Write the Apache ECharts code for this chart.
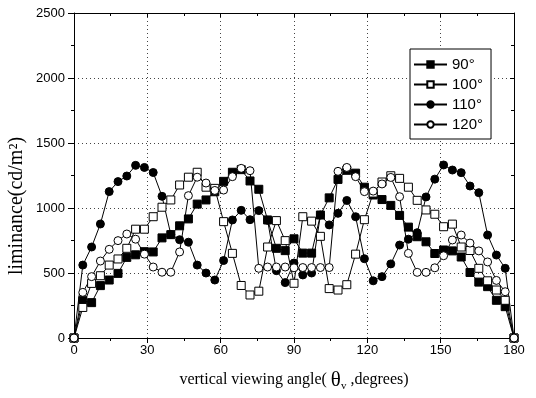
<!DOCTYPE html>
<html><head><meta charset="utf-8">
<script src="https://cdn.jsdelivr.net/npm/echarts@6/dist/echarts.min.js"></script>
<style>html,body{margin:0;padding:0;background:#fff}#c{width:536px;height:398px}</style>
</head><body><div id="c"></div>
<script>
const angles = [0, 3.6, 7.2, 10.8, 14.4, 18, 21.6, 25.2, 28.8, 32.4, 36, 39.6, 43.2, 46.8, 50.4, 54, 57.6, 61.2, 64.8, 68.4, 72, 75.6, 79.2, 82.8, 86.4, 90, 93.6, 97.2, 100.8, 104.4, 108, 111.6, 115.2, 118.8, 122.4, 126, 129.6, 133.2, 136.8, 140.4, 144, 147.6, 151.2, 154.8, 158.4, 162, 165.6, 169.2, 172.8, 176.4, 180];
const s90 = [0, 287, 272, 403, 446, 497, 620, 640, 664, 662, 770, 795, 863, 916, 1030, 1062, 1125, 1205, 1275, 1295, 1208, 1144, 908, 690, 672, 763, 653, 653, 946, 1078, 1220, 1290, 1268, 1160, 1100, 1065, 1020, 943, 853, 779, 740, 650, 677, 670, 623, 504, 430, 395, 290, 241, 0];
const s100 = [0, 235, 420, 479, 561, 608, 690, 837, 837, 933, 1006, 1062, 1177, 1237, 1275, 1160, 1151, 895, 651, 404, 331, 360, 700, 903, 749, 421, 933, 899, 782, 380, 369, 410, 645, 910, 1115, 1200, 1248, 1228, 1160, 1059, 985, 952, 856, 876, 700, 673, 536, 440, 369, 290, 0];
const s110 = [0, 561, 700, 877, 1126, 1203, 1246, 1328, 1312, 1273, 1090, 797, 756, 737, 561, 500, 446, 596, 908, 982, 910, 980, 905, 518, 426, 577, 485, 500, 946, 870, 959, 1058, 933, 610, 440, 472, 570, 715, 760, 810, 1085, 1222, 1331, 1292, 1272, 1169, 1118, 792, 638, 536, 0];
const s120 = [0, 351, 472, 592, 682, 749, 800, 760, 645, 546, 506, 506, 662, 1095, 1237, 1192, 1135, 1138, 1241, 1305, 1287, 536, 546, 546, 546, 540, 542, 542, 542, 542, 1282, 1312, 1241, 1126, 1130, 1185, 1235, 1087, 651, 505, 505, 540, 633, 754, 792, 730, 670, 585, 443, 356, 0];
const seriesNames = ['90°', '100°', '110°', '120°'];
const xTicks = [0, 30, 60, 90, 120, 150, 180];
const yTicks = [0, 500, 1000, 1500, 2000, 2500];

const sans = '"Liberation Sans", Arial, sans-serif';
const serif = '"Liberation Serif", "Times New Roman", serif';
function pairs(v) { return angles.map((a, i) => [a, v[i]]); }
function mk(name, data, symbol, filled) {
  return {
    name: name, type: 'line', data: pairs(data), symbol: symbol, symbolSize: 8,
    showSymbol: true, showAllSymbol: true,
    lineStyle: { color: '#000', width: 1 },
    itemStyle: filled ? { color: '#000', borderColor: '#000', borderWidth: 1 }
                      : { color: '#fff', borderColor: '#000', borderWidth: 1 },
    emphasis: { disabled: true }, animation: false
  };
}
const chart = echarts.init(document.getElementById('c'));
const dotted = { color: '#444', type: [1, 3], width: 1 };
chart.setOption({
  animation: false,
  backgroundColor: '#fff',
  grid: { left: 74, right: 22, top: 13, bottom: 60 },
  legend: {
    orient: 'vertical', left: 410, top: 49,
    data: seriesNames,
    itemWidth: 33, itemHeight: 8, itemGap: 5,
    padding: [8, 8, 7, 3],
    borderColor: '#000', borderWidth: 1, backgroundColor: '#fff',
    textStyle: { fontFamily: sans, fontSize: 15, color: '#000' }
  },
  xAxis: [{
    type: 'value', min: xTicks[0], max: xTicks[xTicks.length - 1], interval: 30, position: 'bottom',
    axisLine: { show: true, onZero: false, lineStyle: { color: '#000', width: 1 } },
    axisTick: { show: true, length: 5, lineStyle: { color: '#000' } },
    minorTick: { show: true, splitNumber: 2, length: 3, lineStyle: { color: '#000' } },
    splitLine: { show: true, lineStyle: dotted },
    axisLabel: { color: '#000', fontFamily: sans, fontSize: 13, margin: 6, formatter: v => String(v) },
    name: '{a|vertical viewing angle( }{b|θ}{c|v}{a| ,degrees)}',
    nameLocation: 'middle', nameGap: 30,
    nameTextStyle: {
      rich: {
        a: { fontFamily: serif, fontSize: 16, color: '#000', lineHeight: 24 },
        b: { fontFamily: serif, fontSize: 21, color: '#000', lineHeight: 24 },
        c: { fontFamily: serif, fontSize: 11, color: '#000', lineHeight: 24, padding: [12, 0, 0, 0] }
      }
    }
  }, {
    type: 'value', min: 0, max: 180, interval: 30, position: 'top',
    axisLine: { show: true, onZero: false, lineStyle: { color: '#000', width: 1 } },
    axisTick: { show: true, inside: true, length: 4, lineStyle: { color: '#000' } },
    minorTick: { show: true, splitNumber: 2, length: 3, lineStyle: { color: '#000' } },
    splitLine: { show: false }, axisLabel: { show: false }
  }],
  yAxis: [{
    type: 'value', min: yTicks[0], max: yTicks[yTicks.length - 1], interval: 500, position: 'left',
    axisLine: { show: true, onZero: false, lineStyle: { color: '#000', width: 1 } },
    axisTick: { show: true, length: 6, lineStyle: { color: '#000' } },
    minorTick: { show: true, splitNumber: 2, length: 3, lineStyle: { color: '#000' } },
    splitLine: { show: true, lineStyle: dotted },
    axisLabel: { color: '#000', fontFamily: sans, fontSize: 13, margin: 9, formatter: v => String(v) }
  }, {
    type: 'value', min: 0, max: 2500, interval: 500, position: 'right',
    axisLine: { show: true, onZero: false, lineStyle: { color: '#000', width: 1 } },
    axisTick: { show: true, inside: true, length: 4, lineStyle: { color: '#000' } },
    minorTick: { show: true, splitNumber: 2, length: 3, lineStyle: { color: '#000' } },
    splitLine: { show: false }, axisLabel: { show: false }
  }],
  graphic: [{
    type: 'text', x: 17, y: 206, rotation: Math.PI / 2,
    style: { text: 'liminance(cd/m²)', font: '20px "Liberation Serif"', fill: '#000', align: 'center', verticalAlign: 'middle' }
  }],
  series: [
    mk(seriesNames[0], s90, 'rect', true),
    mk(seriesNames[1], s100, 'rect', false),
    mk(seriesNames[2], s110, 'circle', true),
    mk(seriesNames[3], s120, 'circle', false)
  ]
});
</script></body></html>
